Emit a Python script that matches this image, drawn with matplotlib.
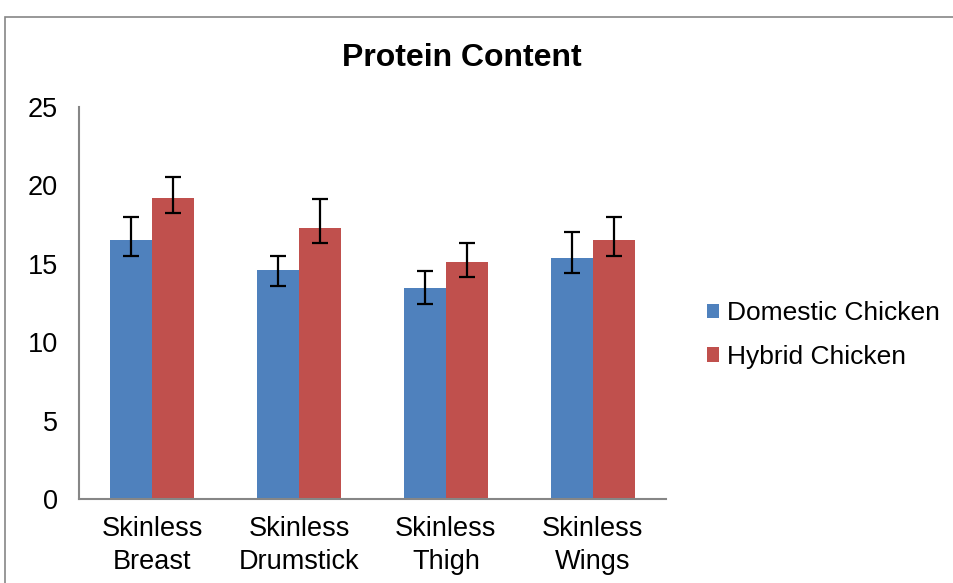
import numpy as np
import matplotlib.pyplot as plt
from matplotlib.patches import Rectangle

plt.rcParams['font.family'] = ['Liberation Sans', 'DejaVu Sans']

categories = ['Skinless\nBreast', 'Skinless\nDrumstick', 'Skinless\nThigh', 'Skinless\nWings']
series = ['Domestic Chicken', 'Hybrid Chicken']
domestic = [16.5, 14.6, 13.45, 15.4]
hybrid = [19.2, 17.3, 15.1, 16.5]
# errores (inferior, superior)
domestic_err_low = [1.0, 1.0, 1.0, 1.0]
domestic_err_high = [1.5, 0.87, 1.12, 1.63]
hybrid_err_low = [0.96, 0.95, 0.97, 1.0]
hybrid_err_high = [1.35, 1.83, 1.24, 1.5]

colors = ['#4F81BD', '#C0504D']

fig = plt.figure(figsize=(9.54, 5.83), dpi=100)
fig.patches.append(Rectangle((5 / 954, -0.1), 1.2, 1.1 - 17 / 583, transform=fig.transFigure,
                             fill=False, edgecolor='#868686', linewidth=1.2))
ax = fig.add_axes([79 / 954, 1 - 499 / 583, (666 - 79) / 954, (499 - 107) / 583])

x = np.arange(len(categories))
w = 0.286
ax.bar(x - w / 2, domestic, w, color=colors[0], label=series[0])
ax.bar(x + w / 2, hybrid, w, color=colors[1], label=series[1])
ekw = dict(fmt='none', ecolor='black', elinewidth=1.6, capsize=6, capthick=1.6)
ax.errorbar(x - w / 2, domestic, yerr=[domestic_err_low, domestic_err_high], **ekw)
ax.errorbar(x + w / 2, hybrid, yerr=[hybrid_err_low, hybrid_err_high], **ekw)

ax.set_xlim(-0.5, 3.5)
ax.set_ylim(0, 25)
ax.set_yticks([0, 5, 10, 15, 20, 25])
ax.set_xticks(x)
ax.set_xticklabels(categories, fontsize=19.5, linespacing=1.35)
ax.tick_params(axis='y', labelsize=19.5, length=0, pad=15)
ax.tick_params(axis='x', length=0, pad=12)
for s in ['top', 'right']:
    ax.spines[s].set_visible(False)
for s in ['left', 'bottom']:
    ax.spines[s].set_color('#868686')
    ax.spines[s].set_linewidth(1.5)

fig.text(462 / 954, 1 - 58 / 583, 'Protein Content', fontsize=23, fontweight='bold',
         ha='center', va='center')

ax.legend(loc='center left', bbox_to_anchor=(707 / 954, 1 - 335 / 583),
          bbox_transform=fig.transFigure, frameon=False, fontsize=19, borderpad=0,
          borderaxespad=0, handlelength=0.45, handleheight=0.45, handletextpad=0.3,
          labelspacing=0.75)

fig.savefig('out.png', dpi=100)
